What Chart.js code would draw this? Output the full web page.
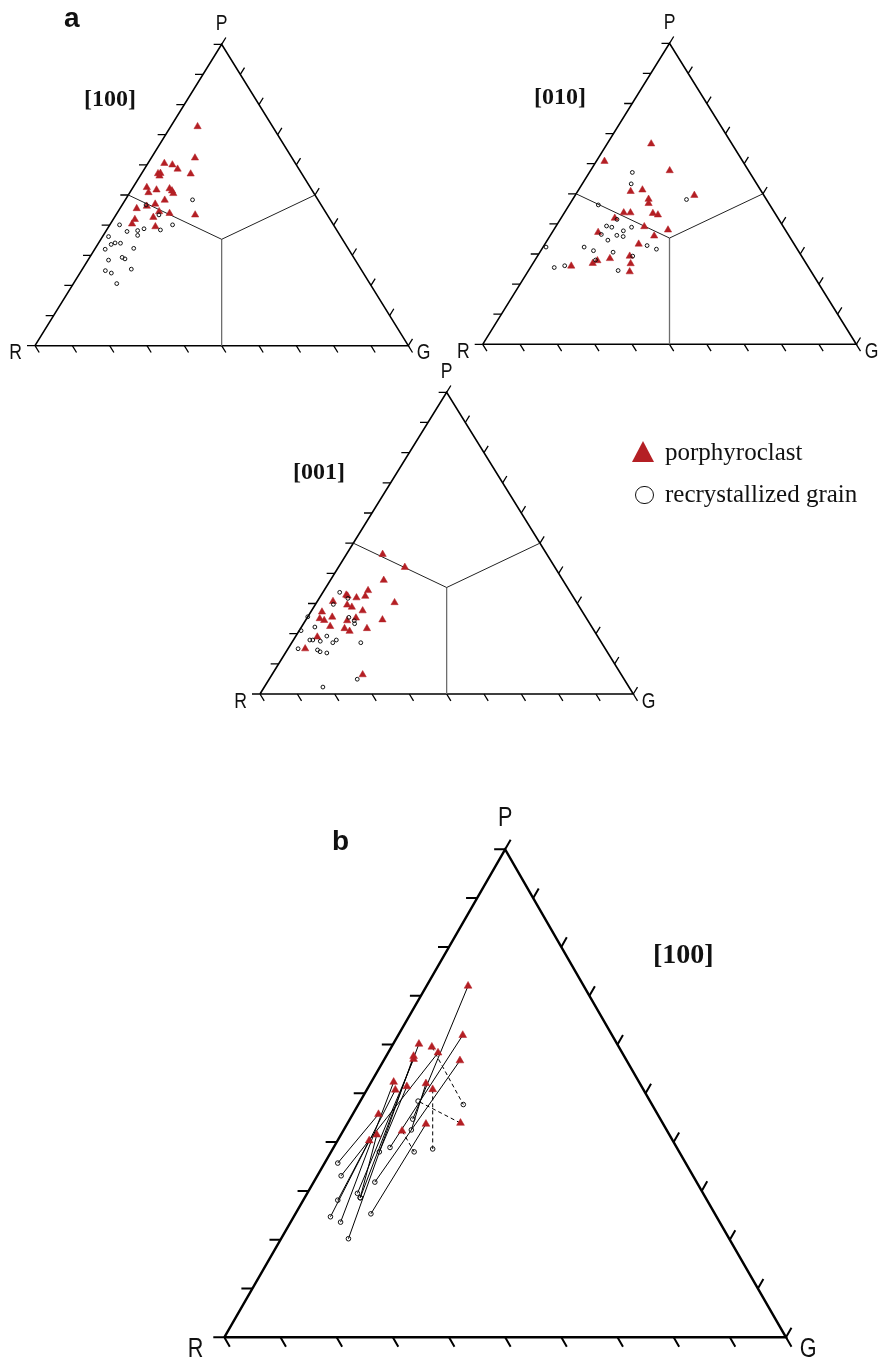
<!DOCTYPE html>
<html>
<head>
<meta charset="utf-8">
<script src="https://cdn.jsdelivr.net/npm/chart.js@4.4.0/dist/chart.umd.min.js"></script>
<style>
  body { margin:0; background:#fff; width:882px; height:1361px; overflow:hidden; position:relative; }
  .box { position:absolute; }
  .txt { position:absolute; white-space:nowrap; line-height:1; color:#111; }
  .title { font:bold 24px 'Liberation Serif', 'Times New Roman', serif; }
  .panel { font:bold 28px 'Liberation Sans', Arial, sans-serif; }
  .leg { font:25px 'Liberation Serif', 'Times New Roman', serif; }
</style>
</head>
<body>
<div class="box" style="left:0;top:0"><canvas id="c100" width="441" height="380"></canvas></div>
<div class="box" style="left:441px;top:0"><canvas id="c010" width="441" height="380"></canvas></div>
<div class="box" style="left:220px;top:360px"><canvas id="c001" width="440" height="370"></canvas></div>
<div class="box" style="left:180px;top:790px"><canvas id="cB" width="660" height="571"></canvas></div>

<div class="txt panel" style="left:64px;top:2px">a</div>
<div class="txt panel" style="left:332px;top:825px">b</div>
<div class="txt title" style="left:84px;top:85px">[100]</div>
<div class="txt title" style="left:534px;top:83px">[010]</div>
<div class="txt title" style="left:293px;top:458px">[001]</div>
<div class="txt title" style="left:653px;top:938px;font-size:28px">[100]</div>

<div style="position:absolute;left:632px;top:441px;width:0;height:0;border-left:11.5px solid transparent;border-right:11.5px solid transparent;border-bottom:21px solid #b41f24"></div>
<div style="position:absolute;left:635px;top:485.5px;width:18.5px;height:18.5px;box-sizing:border-box;border:1.5px solid #111;border-radius:50%"></div>
<div class="txt leg" style="left:665px;top:438px">porphyroclast</div>
<div class="txt leg" style="left:665px;top:480px">recrystallized grain</div>

<script>
const RED = '#b41f24';

// all values in %: P (point maximum), G (girdle); R = 100 - P - G
const tickPct = [0, 10, 20, 30, 40, 50, 60, 70, 80, 90, 100];
const dividerCentre = { P: 35.3, G: 32.35 };

// [100] axis
const a100PorphP = [72.7, 62.3, 60.5, 60.0, 58.6, 57.0, 57.1, 57.2, 56.3, 52.5, 50.8, 51.7, 52.1, 51.4, 50.5, 48.3, 47.0, 46.3, 45.5, 44.5, 43.9, 43.4, 42.6, 41.9, 40.4, 39.5];
const a100PorphG = [7.2, 11.7, 4.4, 6.8, 8.9, 13.2, 4.4, 5.0, 5.2, 3.7, 5.0, 6.7, 10.0, 11.0, 11.8, 10.6, 8.7, 6.8, 4.5, 11.0, 14.1, 21.2, 10.4, 5.8, 5.8, 12.5];
const a100RecrP = [48.4, 46.7, 43.4, 40.1, 38.2, 38.8, 37.9, 36.6, 38.4, 40.1, 36.2, 33.6, 34.1, 34.0, 32.0, 32.3, 28.4, 29.3, 28.8, 24.9, 24.1, 25.4, 20.6];
const a100RecrG = [18.0, 6.4, 11.5, 2.6, 8.4, 9.8, 5.7, 9.2, 14.4, 16.8, 1.6, 3.6, 4.4, 5.9, 2.8, 10.3, 5.5, 8.7, 9.7, 6.4, 8.4, 13.1, 11.6];

// [010] axis
const a010PorphP = [66.6, 60.8, 57.7, 49.5, 50.8, 51.3, 48.2, 46.8, 43.7, 43.7, 43.5, 43.0, 41.9, 39.1, 38.0, 37.2, 36.0, 33.3, 29.3, 28.5, 27.8, 26.9, 26.8, 26.0, 24.1];
const a010PorphG = [11.8, 2.2, 21.2, 31.9, 14.2, 17.1, 20.3, 21.0, 15.9, 17.7, 23.8, 25.4, 14.4, 23.7, 30.6, 12.3, 27.9, 25.1, 24.7, 19.8, 16.8, 16.0, 26.2, 10.7, 27.3];
const a010RecrP = [57.1, 53.3, 48.1, 46.3, 41.5, 39.3, 38.9, 37.7, 38.9, 36.5, 36.2, 35.8, 34.6, 32.3, 32.3, 31.1, 30.6, 32.8, 31.6, 29.3, 28.0, 25.5, 26.1, 24.5];
const a010RecrG = [11.5, 13.1, 30.5, 7.8, 15.2, 13.5, 15.1, 18.8, 20.4, 13.5, 17.8, 19.7, 16.2, 0.8, 11.0, 14.1, 19.6, 27.6, 30.7, 25.5, 16.2, 6.4, 8.9, 24.0];

// [001] axis
const a001PorphP = [46.3, 42.0, 37.7, 34.3, 32.8, 32.5, 31.9, 32.4, 30.7, 29.5, 28.8, 30.3, 27.6, 27.2, 25.5, 25.0, 24.4, 25.2, 24.3, 24.6, 22.4, 21.7, 20.8, 21.7, 18.9, 15.0, 6.4];
const a001PorphG = [9.7, 17.8, 14.3, 11.8, 6.7, 7.2, 9.9, 12.0, 4.2, 8.6, 10.2, 20.9, 13.7, 3.0, 6.6, 3.5, 5.0, 13.1, 11.2, 20.5, 7.6, 11.8, 13.6, 17.8, 5.9, 4.6, 24.3];
const a001RecrP = [33.7, 31.7, 29.7, 25.6, 25.4, 24.3, 23.3, 21.0, 22.2, 19.2, 17.9, 17.9, 17.5, 17.0, 17.9, 17.0, 15.0, 14.6, 14.0, 13.6, 4.9, 2.3];
const a001RecrG = [4.5, 7.7, 4.8, 0.0, 11.1, 13.1, 13.7, 0.5, 3.6, 8.3, 4.4, 5.2, 7.4, 11.0, 11.5, 18.5, 2.7, 8.1, 9.1, 11.1, 23.6, 15.7];

// b: [100] porphyroclast -> recrystallized grain pairs
const pairPorphP = [72.0, 61.9, 56.7, 60.1, 59.5, 58.3, 57.0, 57.6, 52.3, 50.7, 51.4, 52.0, 50.8, 45.7, 43.9, 43.7, 42.3, 40.3, 41.5];
const pairPorphG = [7.4, 11.5, 13.6, 4.6, 7.2, 8.9, 5.2, 4.9, 4.0, 5.1, 6.8, 9.9, 11.7, 4.6, 20.1, 14.05, 10.5, 5.65, 6.4];
const pairRecrP = [44.7, 38.9, 31.8, 28.6, 47.7, 33.1, 29.5, 20.2, 23.6, 24.7, 38.0, 42.5, 38.6, 35.7, 48.4, 25.3, 38.0, 28.1, 28.6];
const pairRecrG = [11.2, 10.05, 10.9, 9.9, 18.7, 4.25, 8.95, 12.0, 8.9, 6.55, 8.6, 12.05, 17.8, 2.35, 10.3, 13.45, 14.8, 6.15, 9.9];
const pairDashed = [false, false, false, false, true, false, false, false, false, false, false, false, true, false, true, false, true, false, false];

function toXY(P, G) { return { x: G + P / 2, y: P }; }
function pts(Ps, Gs) { return Ps.map((p, i) => toXY(p, Gs[i])); }

// narrow-looking corner letters: squeeze a normal sans horizontally
function narrowText(ctx, s, x, y, align, squeeze) {
  const w = ctx.measureText(s).width * squeeze;
  const left = align === 'right' ? x - w : align === 'center' ? x - w / 2 : x;
  ctx.save();
  ctx.translate(left, y);
  ctx.scale(squeeze, 1);
  ctx.textAlign = 'left';
  ctx.fillText(s, 0, 0);
  ctx.restore();
}

const ternaryPlugin = {
  id: 'ternary',
  beforeDatasetsDraw(chart, args, o) {
    const { ctx, scales: { x, y } } = chart;
    const px = (P, G) => ({ x: x.getPixelForValue(G + P / 2), y: y.getPixelForValue(P) });
    const R = px(0, 0), G = px(0, 100), P = px(100, 0);
    const unit = (a, b) => { const dx = b.x - a.x, dy = b.y - a.y, l = Math.hypot(dx, dy); return { x: dx / l, y: dy / l }; };
    const dRight = unit(R, P), dBottom = unit(P, G);
    const L = o.tickLen;
    ctx.save();
    ctx.strokeStyle = '#000';
    ctx.lineWidth = o.tickWidth;
    ctx.beginPath();
    tickPct.forEach(t => {
      let a = px(t, 0);
      ctx.moveTo(a.x, a.y); ctx.lineTo(a.x - L, a.y);
      a = px(100 - t, t);
      ctx.moveTo(a.x, a.y); ctx.lineTo(a.x + dRight.x * L, a.y + dRight.y * L);
      a = px(0, t);
      ctx.moveTo(a.x, a.y); ctx.lineTo(a.x + dBottom.x * L, a.y + dBottom.y * L);
    });
    ctx.stroke();
    ctx.fillStyle = '#111';
    ctx.font = o.labelFont;
    ctx.textBaseline = 'alphabetic';
    narrowText(ctx, 'P', P.x, P.y - o.pGap, 'center', 0.8);
    narrowText(ctx, 'R', R.x - o.sideGap, R.y + o.baseDrop, 'right', 0.8);
    narrowText(ctx, 'G', G.x + o.sideGap * 0.65, G.y + o.baseDrop, 'left', 0.8);
    ctx.restore();
  }
};

function line(data, color, width, dash, order) {
  return { type: 'scatter', data, showLine: true, borderColor: color, borderWidth: width,
           borderDash: dash || [], pointRadius: 0, clip: false, order, tension: 0 };
}

function frameSets(w, withDividers) {
  const sets = [line([toXY(0, 0), toXY(0, 100), toXY(100, 0), toXY(0, 0)], '#000', w, null, 9)];
  if (withDividers) {
    const c = toXY(dividerCentre.P, dividerCentre.G);
    sets.push(line([c, toXY(50, 0)], '#222', 1, null, 8));
    sets.push(line([c, toXY(50, 50)], '#222', 1, null, 8));
    sets.push(line([c, toXY(0, 50)], '#6e6e6e', 1.3, null, 8));
  }
  return sets;
}

function markerSets(porph, recr, triR, circR) {
  return [
    { type: 'scatter', data: porph, pointStyle: 'triangle', pointRadius: triR, backgroundColor: RED,
      borderColor: RED, borderWidth: 0.5, clip: false, order: 2 },
    { type: 'scatter', data: recr, pointStyle: 'circle', pointRadius: circR, backgroundColor: 'rgba(255,255,255,0)',
      borderColor: '#111', borderWidth: 1, clip: false, order: 1 }
  ];
}

function makeChart(id, pad, datasets, deco) {
  new Chart(document.getElementById(id), {
    data: { datasets },
    options: {
      responsive: false,
      animation: false,
      events: [],
      layout: { padding: pad },
      scales: {
        x: { type: 'linear', min: 0, max: 100, display: false },
        y: { type: 'linear', min: 0, max: 100, display: false }
      },
      plugins: { legend: { display: false }, tooltip: { enabled: false }, ternary: deco }
    },
    plugins: [ternaryPlugin]
  });
}

const smallDeco = { tickLen: 8, tickWidth: 1.3, labelFont: "22px 'Liberation Sans', Arial, sans-serif", pGap: 14, sideGap: 13, baseDrop: 13.5 };

makeChart('c100', { left: 35, right: 32.7, top: 44.3, bottom: 34.3 },
  [...frameSets(1.6, true), ...markerSets(pts(a100PorphP, a100PorphG), pts(a100RecrP, a100RecrG), 4.2, 1.9)], smallDeco);

makeChart('c010', { left: 41.7, right: 25.7, top: 43.3, bottom: 35.7 },
  [...frameSets(1.6, true), ...markerSets(pts(a010PorphP, a010PorphG), pts(a010RecrP, a010RecrG), 4.2, 1.9)], smallDeco);

makeChart('c001', { left: 40, right: 26.7, top: 32.3, bottom: 36 },
  [...frameSets(1.6, true), ...markerSets(pts(a001PorphP, a001PorphG), pts(a001RecrP, a001RecrG), 4.2, 1.9)], smallDeco);

const pairLines = pairPorphP.map((p, i) =>
  line([toXY(p, pairPorphG[i]), toXY(pairRecrP[i], pairRecrG[i])], '#000', 1, pairDashed[i] ? [4, 3] : null, 5));

makeChart('cB', { left: 44.3, right: 54, top: 59.3, bottom: 23.7 },
  [...frameSets(2.4, false), ...pairLines,
   ...markerSets(pts(pairPorphP, pairPorphG), pts(pairRecrP, pairRecrG), 4.5, 2.3)],
  { tickLen: 11, tickWidth: 2, labelFont: "27px 'Liberation Sans', Arial, sans-serif", pGap: 23, sideGap: 21, baseDrop: 19.5 });
</script>
</body>
</html>
